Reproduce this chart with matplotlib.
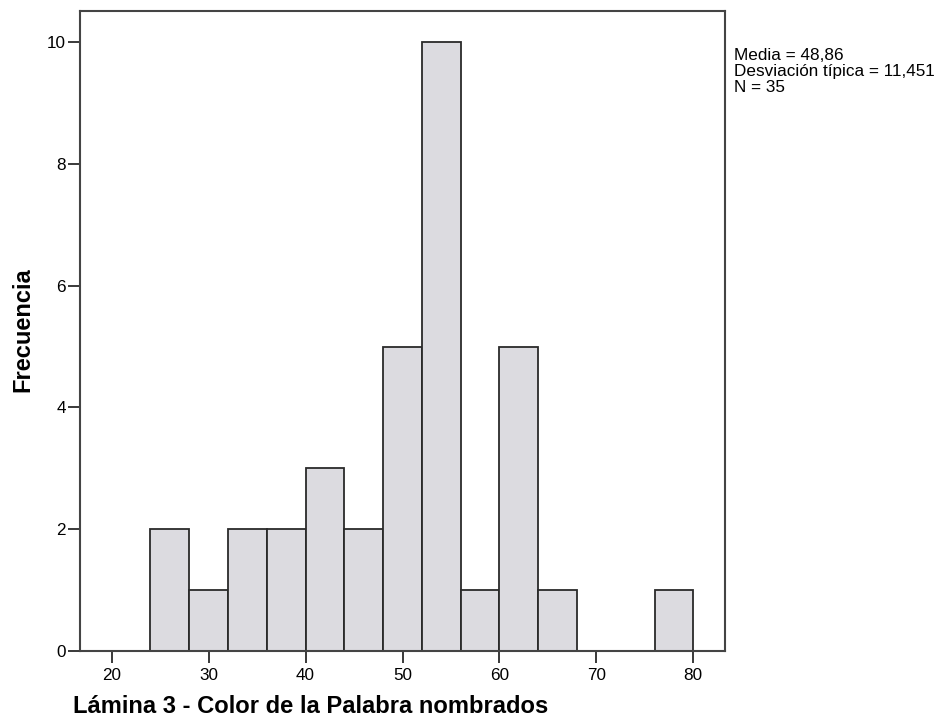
import matplotlib
matplotlib.use("Agg")
import matplotlib.pyplot as plt
import numpy as np

plt.rcParams['font.family'] = ['Liberation Sans', 'DejaVu Sans']

# Histogram bins (edges, width 4) and frequencies
bin_edges = [24, 28, 32, 36, 40, 44, 48, 52, 56, 60, 64, 68, 72, 76, 80]
frequencies = [2, 1, 2, 2, 3, 2, 5, 10, 1, 5, 1, 0, 0, 1]
x_ticks = [20, 30, 40, 50, 60, 70, 80]
y_ticks = [0, 2, 4, 6, 8, 10]
stats_lines = ["Media = 48,86", "Desviación típica = 11,451", "N = 35"]
x_label = "Lámina 3 - Color de la Palabra nombrados"
y_label = "Frecuencia"

W, H = 937, 722
fig = plt.figure(figsize=(W / 100, H / 100), dpi=100)
ax = fig.add_axes([80 / W, (H - 651) / H, (725 - 80) / W, (651 - 10.5) / H])

lefts = np.array(bin_edges[:-1])
widths = np.diff(bin_edges)
freq = np.array(frequencies)
mask = freq > 0
ax.bar(lefts[mask], freq[mask], width=widths[mask], align='edge',
       color='#dcdbe0', edgecolor='#2a2a2a', linewidth=1.3)

ax.set_xlim(16.73, 83.27)
ax.set_ylim(0, 10.52)
ax.set_xticks(x_ticks)
ax.set_yticks(y_ticks)
ax.tick_params(axis='both', direction='out', length=8.5, width=1.3, color='#2a2a2a',
               labelsize=12.3)
ax.tick_params(axis='x', pad=3.5)
ax.tick_params(axis='y', pad=1.5)
for s in ax.spines.values():
    s.set_linewidth(1.5)
    s.set_color('#444444')

fig.text(73 / W, (H - 713) / H, x_label, fontsize=17.1, fontweight='bold',
         ha='left', va='baseline')
fig.text(23 / W, (H - 330) / H, y_label, fontsize=17, fontweight='bold',
         rotation=90, ha='center', va='center')
fig.text(734 / W, (H - 48) / H, "\n".join(stats_lines), fontsize=12.3,
         ha='left', va='top', linespacing=1.08)

fig.savefig("out.png", dpi=100)
